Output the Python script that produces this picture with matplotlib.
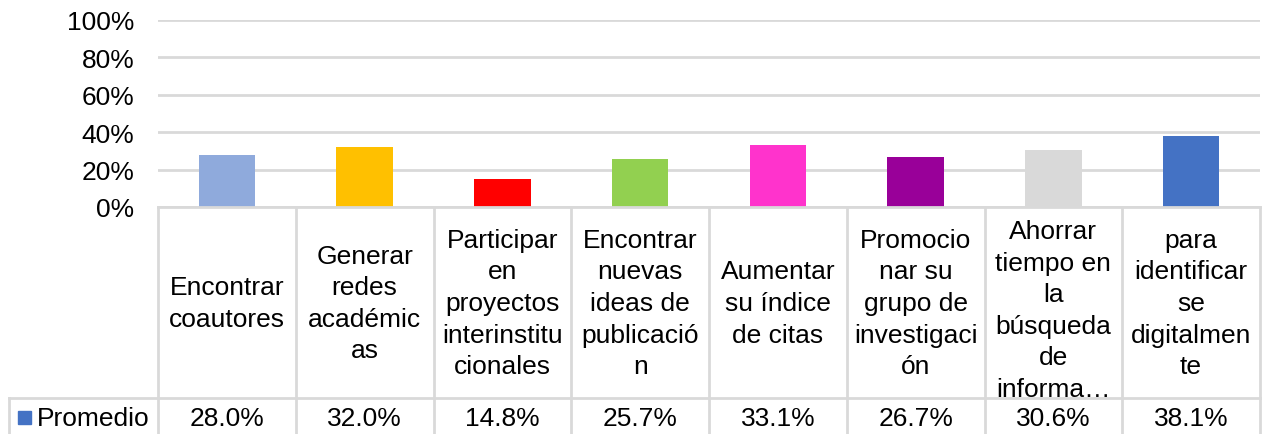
import matplotlib
matplotlib.use("Agg")
import matplotlib.pyplot as plt
import matplotlib.ticker as mticker
from matplotlib.transforms import blended_transform_factory
from matplotlib.lines import Line2D
from matplotlib.patches import Rectangle

# data
categories = [
    "Encontrar\ncoautores",
    "Generar\nredes\nacadémic\nas",
    "Participar\nen\nproyectos\ninterinstitu\ncionales",
    "Encontrar\nnuevas\nideas de\npublicació\nn",
    "Aumentar\nsu índice\nde citas",
    "Promocio\nnar su\ngrupo de\ninvestigaci\nón",
    "Ahorrar\ntiempo en\nla\nbúsqueda\nde\ninforma…",
    "para\nidentificar\nse\ndigitalmen\nte",
]
promedio = [28.0, 32.0, 14.8, 25.7, 33.1, 26.7, 30.6, 38.1]
bar_colors = ["#8FAADC", "#FFC000", "#FF0000", "#92D050",
              "#FF33CC", "#990099", "#D9D9D9", "#4472C4"]
series_name = "Promedio"
series_color = "#4472C4"
yticks = [0, 20, 40, 60, 80, 100]

W, H = 1262, 435
FS = 19
GRID = "#D9D9D9"
plt.rcParams["font.family"] = ["Liberation Sans", "DejaVu Sans"]

fig = plt.figure(figsize=(W / 100, H / 100), dpi=100)


def fy(y):
    # pixel row -> figure fraction
    return 1 - y / H


left, right = 158 / W, 1260 / W
ax = fig.add_axes([left, fy(208), right - left, fy(21) - fy(208)])

x = range(len(categories))
ax.bar(x, promedio, width=0.41, color=bar_colors, zorder=2)
ax.set_xlim(-0.5, len(categories) - 0.5)
ax.set_ylim(0, 100)
ax.set_yticks(yticks)
ax.yaxis.set_major_formatter(mticker.PercentFormatter(decimals=0))
ax.tick_params(axis="y", length=0, labelsize=FS, pad=17)
ax.set_xticks([])
ax.grid(axis="y", color=GRID, linewidth=2, zorder=0)
for s in ax.spines.values():
    s.set_visible(False)

# data table below the plot
tr = blended_transform_factory(ax.transData, fig.transFigure)
y_top, y_mid, y_bot = fy(208), fy(399), 0.0
n = len(categories)
lw = 2

# horizontal lines
fig.add_artist(Line2D([-0.5, n - 0.5], [y_top, y_top], transform=tr,
                      color=GRID, lw=lw))
fig.add_artist(Line2D([9 / W, right], [y_mid, y_mid],
                      transform=fig.transFigure, color=GRID, lw=lw))
# vertical lines
for i in range(n + 1):
    fig.add_artist(Line2D([i - 0.5, i - 0.5], [y_bot, y_top], transform=tr,
                          color=GRID, lw=lw))
fig.add_artist(Line2D([9 / W, 9 / W], [y_bot, y_mid],
                      transform=fig.transFigure, color=GRID, lw=lw))

for i, (cat, val) in enumerate(zip(categories, promedio)):
    # the six-line label overflows its cell and is pushed down a little
    yc = 311 if cat.count("\n") >= 5 else 304
    fig.text(i, fy(yc), cat, transform=tr, ha="center", va="center",
             fontsize=FS, linespacing=1.4)
    fig.text(i, fy(419), f"{val:.1f}%", transform=tr, ha="center",
             va="center", fontsize=FS)

# legend key in the table
fig.add_artist(Rectangle((18 / W, fy(425)), 13 / W, 13 / H,
                         transform=fig.transFigure, color=series_color))
fig.text(37 / W, fy(419), series_name, ha="left", va="center", fontsize=FS)

fig.savefig("out.png", dpi=100)
